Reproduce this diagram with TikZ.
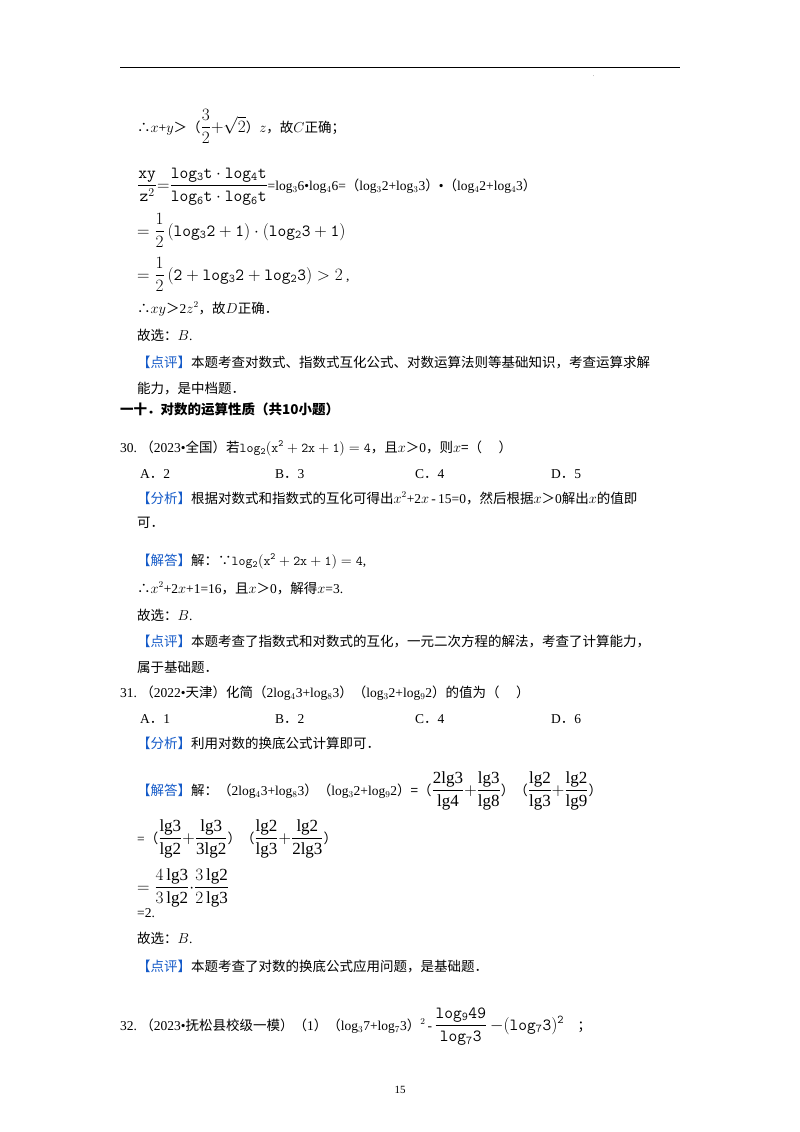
\documentclass[tikz,border=0pt]{standalone}
\usepackage{amsmath}
\usepackage{fontspec}
\setmainfont{Liberation Serif}
\newfontfamily\cjk{Noto Sans CJK SC}
\newcommand{\C}[1]{{\cjk #1}}
\newcommand{\Bg}[1]{{\fontsize{17}{20}\selectfont #1}}
\definecolor{bl}{RGB}{20,90,200}
\newcommand{\Lb}[1]{\textcolor{bl}{\C{【#1】}}}
\begin{document}
\begin{tikzpicture}[x=1pt,y=1pt,
  t/.style={anchor=base west,inner sep=0pt,font=\fontsize{13.5}{16}\selectfont}]
\useasboundingbox (0,0) rectangle (800,-1132);
\fill[white] (0,0) rectangle (800,-1132);
\draw[line width=0.8pt] (120,-67) -- (680,-67);
\node[t,font=\tiny] (dot) at (593,-77) {.};
\node[t] (l1) at (137,-132) {\C{∴}$x$+$y$\C{＞（}\Bg{$\dfrac{3}{2}{+}\sqrt{2}$}\C{）}$z$\C{，故}$C$\C{正确；}};
\node[t] (l2) at (137,-190) {\Bg{$\dfrac{\mathtt{xy}}{\mathtt{z}^2}{=}\dfrac{\mathtt{log_3t\cdot log_4t}}{\mathtt{log_6t\cdot log_6t}}$}=log$_3$6•log$_4$6=\C{（}log$_3$2+log$_3$3\C{）}•\C{（}log$_4$2+log$_4$3\C{）}};
\node[t] (l3) at (137,-236) {\Bg{$=\dfrac{1}{2}$\,$\mathtt{(log_32+1)\cdot(log_23+1)}$}};
\node[t] (l4) at (137,-280) {\Bg{$=\dfrac{1}{2}$\,$\mathtt{(2+log_32+log_23)}>2$}\ ,};
\node[t] (l5) at (137,-313) {\C{∴}$xy$\C{＞}2$z^2$\C{，故}$D$\C{正确．}};
\node[t] (l6) at (137,-340) {\C{故选：}$B$.};
\node[t] (l7) at (137,-367) {\Lb{点评}\C{本题考查对数式、指数式互化公式、对数运算法则等基础知识，考查运算求解}};
\node[t] (l8) at (137,-393) {\C{能力，是中档题．}};
\node[t] (h) at (120,-414) {\C{\bfseries 一十．对数的运算性质（共10小题）}};
\node[t] (q30) at (120,-452) {30.\ \C{（}2023•\C{全国）若}$\mathtt{log_2(x^2+2x+1)=4}$\C{，且}$x$\C{＞}0\C{，则}$x$\C{=（\quad\ ）}};
\node[t] (a30) at (140,-478) {A\C{．}2};
\node[t] (b30) at (275,-478) {B\C{．}3};
\node[t] (c30) at (415,-478) {C\C{．}4};
\node[t] (d30) at (551,-478) {D\C{．}5};
\node[t] (f30) at (137,-503) {\Lb{分析}\C{根据对数式和指数式的互化可得出}$x^2$+2$x$\,-\,15=0\C{，然后根据}$x$\C{＞}0\C{解出}$x$\C{的值即}};
\node[t] (f30b) at (137,-527) {\C{可．}};
\node[t] (s30) at (137,-565) {\Lb{解答}\C{解：∵}$\mathtt{log_2(x^2+2x+1)=4}$,};
\node[t] (s30b) at (137,-593) {\C{∴}$x^2$+2$x$+1=16\C{，且}$x$\C{＞}0\C{，解得}$x$=3.};
\node[t] (s30c) at (137,-620) {\C{故选：}$B$.};
\node[t] (p30) at (137,-646) {\Lb{点评}\C{本题考查了指数式和对数式的互化，一元二次方程的解法，考查了计算能力，}};
\node[t] (p30b) at (137,-672) {\C{属于基础题．}};
\node[t] (q31) at (120,-697) {31.\ \C{（}2022•\C{天津）化简（}2log$_4$3+log$_8$3\C{）（}log$_3$2+log$_9$2\C{）的值为（\quad\ ）}};
\node[t] (a31) at (140,-723) {A\C{．}1};
\node[t] (b31) at (275,-723) {B\C{．}2};
\node[t] (c31) at (415,-723) {C\C{．}4};
\node[t] (d31) at (551,-723) {D\C{．}6};
\node[t] (f31) at (137,-748) {\Lb{分析}\C{利用对数的换底公式计算即可．}};
\node[t] (s31) at (137,-795) {\Lb{解答}\C{解：（}2log$_4$3+log$_8$3\C{）（}log$_3$2+log$_9$2\C{）=（}\Bg{$\dfrac{\mathrm{2lg3}}{\mathrm{lg4}}{+}\dfrac{\mathrm{lg3}}{\mathrm{lg8}}$}\C{）（}\Bg{$\dfrac{\mathrm{lg2}}{\mathrm{lg3}}{+}\dfrac{\mathrm{lg2}}{\mathrm{lg9}}$}\C{）}};
\node[t] (s31b) at (137,-843) {=\C{（}\Bg{$\dfrac{\mathrm{lg3}}{\mathrm{lg2}}{+}\dfrac{\mathrm{lg3}}{\mathrm{3lg2}}$}\C{）（}\Bg{$\dfrac{\mathrm{lg2}}{\mathrm{lg3}}{+}\dfrac{\mathrm{lg2}}{\mathrm{2lg3}}$}\C{）}};
\node[t] (s31c) at (137,-892) {\Bg{$=\dfrac{4\,\mathrm{lg3}}{3\,\mathrm{lg2}}{\cdot}\dfrac{3\,\mathrm{lg2}}{2\,\mathrm{lg3}}$}};
\node[t] (s31d) at (137,-917) {=2.};
\node[t] (s31e) at (137,-943) {\C{故选：}$B$.};
\node[t] (p31) at (137,-971) {\Lb{点评}\C{本题考查了对数的换底公式应用问题，是基础题．}};
\node[t] (q32) at (120,-1030) {32.\ \C{（}2023•\C{抚松县校级一模）（}1\C{）（}log$_3$7+log$_7$3\C{）}$^2$\,-\,\Bg{$\dfrac{\mathtt{log_949}}{\mathtt{log_73}}\,\mathtt{-(log_73)^2}$}\quad\C{；}};
\node[t,font=\fontsize{11}{13}\selectfont,anchor=base] (pg) at (400,-1093) {15};
\end{tikzpicture}
\end{document}
